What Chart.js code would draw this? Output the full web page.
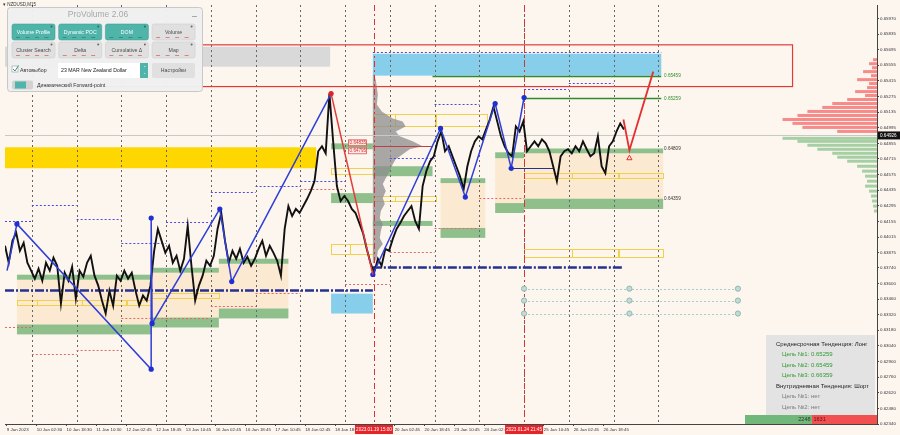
<!DOCTYPE html>
<html lang="ru">
<head>
<meta charset="UTF-8">
<title>NZDUSD M15 - ProVolume</title>
<script src="https://cdn.jsdelivr.net/npm/chart.js"></script>
<style>
  html, body { margin: 0; padding: 0; background: #fdf6ef; }
  #wrap { width: 900px; height: 435px; position: relative; }
</style>
</head>
<body>
<div id="wrap"><canvas id="chart"></canvas></div>
<script>
// ---- data (x in trading hours from the left edge, y in price) ----
const priceStepHours = 2;
const priceCloses = [
  0.63937, 0.63785, 0.63981, 0.64053, 0.63892, 0.63963, 0.63785, 0.63714, 0.63642, 0.63731,
  0.63624, 0.63785, 0.63714, 0.63830, 0.63758, 0.63419, 0.63696, 0.63624, 0.63749, 0.63464,
  0.63714, 0.63660, 0.63785, 0.63847, 0.63669, 0.63580, 0.63446, 0.63330, 0.63535, 0.63401,
  0.63669, 0.63624, 0.63714, 0.63642, 0.63696, 0.63535, 0.63401, 0.63491, 0.63446, 0.63580,
  0.63892, 0.64088, 0.63981, 0.63874, 0.63937, 0.63785, 0.63847, 0.63714, 0.63821, 0.64115,
  0.63758, 0.63446, 0.63580, 0.63669, 0.63803, 0.63758, 0.63847, 0.64088, 0.64231, 0.63981,
  0.63785, 0.63892, 0.63821, 0.63910, 0.63785, 0.63839, 0.63758, 0.63821, 0.63910, 0.63981,
  0.63847, 0.63937, 0.63874, 0.63803, 0.63669, 0.64088, 0.64293, 0.64204, 0.64267, 0.64231,
  0.64293, 0.64356, 0.64427, 0.64516, 0.64784, 0.64829, 0.64766, 0.65301, 0.64873, 0.64472,
  0.64338, 0.64383, 0.64338, 0.64267, 0.64231, 0.64142, 0.64053, 0.63910, 0.63785, 0.63696,
  0.63821, 0.63758, 0.63910, 0.63892, 0.63999, 0.64088, 0.64142, 0.64204, 0.64249, 0.64293,
  0.64160, 0.64088, 0.64472, 0.64606, 0.64695, 0.64739, 0.64873, 0.64962, 0.64784, 0.64829,
  0.64739, 0.64650, 0.64561, 0.64445, 0.64650, 0.64784, 0.64873, 0.64918, 0.64891, 0.64980,
  0.65069, 0.65185, 0.65052, 0.64918, 0.64829, 0.64766, 0.64739, 0.65007, 0.64962, 0.65052,
  0.64784, 0.64829, 0.64873, 0.64829, 0.64891, 0.64855, 0.64784, 0.64650, 0.64516, 0.64739,
  0.64784, 0.64802, 0.64766, 0.64829, 0.64784, 0.64873, 0.64802, 0.64739, 0.64766, 0.64918,
  0.64650, 0.64588, 0.64829, 0.64873, 0.64962, 0.65034, 0.64980
];

const xTickHours = [1, 17, 33, 49, 65, 81, 97, 113, 129, 145, 161, 177, 193, 209, 225, 241, 257, 273, 289, 305, 321];
const xTickLabels = ['9 Jan 2023', '10 Jan 02:30', '10 Jan 18:30', '11 Jan 10:30', '12 Jan 02:45', '12 Jan 18:45',
  '13 Jan 10:45', '16 Jan 02:45', '16 Jan 18:45', '17 Jan 10:45', '18 Jan 02:45', '18 Jan 18:45', '19 Jan 10:45',
  '20 Jan 02:45', '20 Jan 18:45', '23 Jan 10:45', '24 Jan 02:45', '24 Jan 18:45', '25 Jan 10:45', '26 Jan 02:45',
  '26 Jan 18:45'];
const yTickValues = [0.65970, 0.65835, 0.65695, 0.65555, 0.65415, 0.65275, 0.65135, 0.64995, 0.64855, 0.64715,
  0.64575, 0.64435, 0.64295, 0.64155, 0.64015, 0.63875, 0.63740, 0.63600, 0.63460, 0.63320, 0.63180, 0.63040,
  0.62900, 0.62760, 0.62620, 0.62480, 0.62340];
const daySeparators = [14.4, 38.4, 62.4, 86.4, 110.4, 134.4, 158.4, 182.4, 206.4, 230.4, 254.4, 278.4, 302.4, 326.4, 350.4];
const markerHours = [197.9, 278.4];
const markerLabels = ['2023.01.19 15:00', '2023.01.24 21:45'];
const bidPrice = 0.64926;

// zones: [fromHour, toHour, topPrice, bottomPrice]
const grayZones = [[0, 174.4, 0.65721, 0.65542]];
const peachZones = [
  [6.4, 78.4, 0.63633, 0.63232], [78.9, 114.7, 0.63696, 0.63294], [114.7, 152.0, 0.63776, 0.63375],
  [233.6, 257.6, 0.64499, 0.64097], [262.9, 278.4, 0.64722, 0.64320], [278.4, 353.0, 0.64766, 0.64359]
];
const goldZones = [[0, 166.9, 0.64820, 0.64632]];
const skyZones = [[197.3, 352.0, 0.65658, 0.65462], [174.9, 197.3, 0.63508, 0.63330]];
const greenZones = [
  [6.4, 78.4, 0.63678, 0.63633], [78.9, 114.7, 0.63740, 0.63696], [114.7, 152.0, 0.63821, 0.63776],
  [6.4, 78.4, 0.63232, 0.63143], [78.9, 114.7, 0.63294, 0.63205], [114.7, 152.0, 0.63375, 0.63286],
  [174.9, 197.3, 0.64855, 0.64802], [174.9, 197.3, 0.64409, 0.64320],
  [197.3, 229.3, 0.64650, 0.64561], [197.3, 229.3, 0.64160, 0.64115],
  [233.6, 257.6, 0.64543, 0.64499], [233.6, 257.6, 0.64097, 0.64008],
  [262.9, 278.4, 0.64775, 0.64722], [278.4, 353.0, 0.64809, 0.64766],
  [262.9, 278.4, 0.64320, 0.64231], [278.4, 353.0, 0.64359, 0.64267]
];
const yellowBoxes = [
  [6.4, 17.1, 0.63455, 0.63410], [17.1, 41.1, 0.63455, 0.63410], [41.1, 65.1, 0.63455, 0.63410],
  [65.1, 78.4, 0.63455, 0.63410], [78.9, 114.7, 0.63517, 0.63473],
  [174.9, 197.3, 0.64632, 0.64579], [174.9, 185.0, 0.63954, 0.63865], [185.0, 197.3, 0.63954, 0.63865],
  [197.3, 209.0, 0.64383, 0.64338], [209.0, 230.9, 0.64383, 0.64338],
  [197.3, 209.0, 0.65114, 0.65007], [209.0, 230.9, 0.65114, 0.65007], [230.9, 258.7, 0.65114, 0.65007],
  [278.4, 304.0, 0.64588, 0.64543], [304.0, 329.0, 0.64588, 0.64543], [329.0, 353.0, 0.64588, 0.64543],
  [278.4, 304.0, 0.63910, 0.63839], [304.0, 329.0, 0.63910, 0.63839], [329.0, 353.0, 0.63910, 0.63839]
];
const alertBox = [1.5, 422.4, 0.65738, 0.65364];

// short levels: [fromHour, toHour, price]
const blueDotLines = [
  [0, 14.4, 0.64160], [14.4, 38.4, 0.64302], [38.4, 62.4, 0.64178], [62.4, 86.4, 0.63963],
  [86.4, 110.4, 0.64151], [110.4, 134.4, 0.64418], [134.4, 158.4, 0.64472], [158.4, 182.4, 0.64516],
  [206.4, 230.4, 0.64722], [230.4, 254.4, 0.65212], [278.4, 302.4, 0.65346], [302.4, 326.4, 0.65399],
  [197.3, 352.0, 0.65676]
];
const redDotLines = [
  [0, 14.4, 0.63205], [14.4, 38.4, 0.62964], [38.4, 62.4, 0.63000], [62.4, 86.4, 0.63294],
  [86.4, 110.4, 0.63294], [110.4, 134.4, 0.63401], [134.4, 158.4, 0.63517], [158.4, 182.4, 0.64445],
  [182.4, 206.4, 0.63598], [206.4, 230.4, 0.63883], [230.4, 254.4, 0.64097], [254.4, 278.4, 0.64365]
];
const navyLines = [[0, 197.3, 0.63544], [197.3, 331.7, 0.63749]];
const navyThin = [[271.5, 294.4, 0.64632]];
const levelLines = [[229.3, 352.0, 0.65459], [278.4, 352.0, 0.65259]];
const levelLabelPrices = [0.65459, 0.65259, 0.64809, 0.64359];
const levelLabelHour = 353.5;
const pocLine = [197.3, 229.3, 0.64829];
const pocLabels = ['0.64835', '0.64795'];
const pocLabelPrices = [0.64864, 0.64793];
const pocLabelHours = [184.0, 193.6];

// volume profiles: price levels and volumes
const centerProfileBase = 197.3;
const centerProfilePrices = [0.65470, 0.65420, 0.65360, 0.65290, 0.65203, 0.65141, 0.65078, 0.65052, 0.65007, 0.64962,
  0.64918, 0.64873, 0.64829, 0.64802, 0.64757, 0.64713, 0.64668, 0.64606, 0.64543, 0.64490, 0.64427, 0.64365,
  0.64311, 0.64249, 0.64186, 0.64133, 0.64070, 0.64008, 0.63954, 0.63892, 0.63830, 0.63780];
const centerProfileVol = [1, 3, 4, 5, 4, 9, 20, 30, 33, 23, 27, 40, 50, 37, 30, 23, 20, 17, 13, 10, 13, 10,
  12, 8, 7, 10, 8, 7, 10, 5, 4, 1];
const rightProfilePrices = [0.65605, 0.65569, 0.65533, 0.65498, 0.65462, 0.65426, 0.65391, 0.65355, 0.65319, 0.65284,
  0.65248, 0.65212, 0.65177, 0.65141, 0.65105, 0.65069, 0.65034, 0.64998, 0.64962,
  0.64900, 0.64873, 0.64838, 0.64802, 0.64766, 0.64731, 0.64695, 0.64650, 0.64606, 0.64561, 0.64516, 0.64472,
  0.64427, 0.64383, 0.64338, 0.64293, 0.64249];
const rightProfileVol = [4, 8, 5, 14, 6, 20, 8, 10, 22, 12, 30, 45, 55, 70, 80, 95, 85, 75, 40,
  95, 80, 70, 60, 45, 40, 30, 20, 15, 12, 10, 12, 8, 6, 5, 4, 3];
const volumeHoursPerUnit = 0.5333;

// zigzag and forecast
const zigzagBlueA = [[1.1, 0.63714], [6.4, 0.64133], [78.4, 0.62831], [78.4, 0.64186], [78.9, 0.63241],
  [115.2, 0.64267], [121.6, 0.63616], [174.9, 0.65301]];
const zigzagRed = [[174.9, 0.65301], [197.3, 0.63680]];
const zigzagBlueB = [[197.3, 0.63680], [233.6, 0.64989], [246.9, 0.64374], [262.9, 0.65212], [271.5, 0.64632],
  [278.4, 0.65266]];
const forecastRed = [[331.7, 0.65069], [334.9, 0.64793], [347.7, 0.65498]];
const forecastArrow = [[334.9, 0.64722]];
const tealRows = [0.63553, 0.63446, 0.63330];
const tealCols = [278.4, 334.9, 393.1];

const volBuy = '2248';
const volSell = '1631';
const infoLines = [
  ['Среднесрочная Тенденция: Лонг', 'head'],
  ['Цель №1: 0.65259', 'goal'],
  ['Цель №2: 0.65459', 'goal'],
  ['Цель №3: 0.66359', 'goal'],
  ['Внутридневная Тенденция: Шорт', 'head'],
  ['Цель №1: нет', 'none'],
  ['Цель №2: нет', 'none']
];
const panelButtons = [
  ['Volume Profile', 0, 0, true], ['Dynamic POC', 1, 0, true], ['DOM', 2, 0, true], ['Volume', 3, 0, false],
  ['Cluster Search', 0, 1, false], ['Delta', 1, 1, false], ['Cumulative Δ', 2, 1, false], ['Map', 3, 1, false]
];

const FONT = '"Liberation Sans", Arial, sans-serif';
const toPts = arr => arr.map(p => ({ x: p[0], y: p[1] }));

function rr(ctx, x, y, w, h, r) {
  ctx.beginPath();
  ctx.moveTo(x + r, y);
  ctx.arcTo(x + w, y, x + w, y + h, r);
  ctx.arcTo(x + w, y + h, x, y + h, r);
  ctx.arcTo(x, y + h, x, y, r);
  ctx.arcTo(x, y, x + w, y, r);
  ctx.closePath();
}

const overlay = {
  id: 'overlay',
  beforeDraw(chart) {
    const ctx = chart.ctx;
    ctx.save();
    ctx.fillStyle = '#fdf6ef';
    ctx.fillRect(0, 0, chart.width, chart.height);
    ctx.restore();
  },
  beforeDatasetsDraw(chart) {
    const { ctx, chartArea: a, scales: { x, y } } = chart;
    const X = v => x.getPixelForValue(v), Y = v => y.getPixelForValue(v);
    ctx.save();
    ctx.beginPath();
    ctx.rect(a.left, a.top, a.right - a.left, a.bottom - a.top);
    ctx.clip();
    const fillZone = (z, c) => {
      ctx.fillStyle = c;
      ctx.fillRect(X(z[0]), Y(z[2]), X(z[1]) - X(z[0]), Y(z[3]) - Y(z[2]));
    };
    const hLine = (l, c, w, dash) => {
      ctx.strokeStyle = c; ctx.lineWidth = w; ctx.setLineDash(dash);
      ctx.beginPath();
      ctx.moveTo(X(l[0]), Math.round(Y(l[2])) + 0.5);
      ctx.lineTo(X(l[1]), Math.round(Y(l[2])) + 0.5);
      ctx.stroke();
    };

    grayZones.forEach(z => fillZone(z, '#d9d9d9'));
    peachZones.forEach(z => fillZone(z, 'rgba(251,222,184,0.55)'));
    goldZones.forEach(z => fillZone(z, '#ffd700'));
    skyZones.forEach(z => fillZone(z, '#87ceeb'));
    greenZones.forEach(z => fillZone(z, '#8fc08c'));

    ctx.strokeStyle = '#f2d14a'; ctx.lineWidth = 1;
    yellowBoxes.forEach(z => {
      ctx.strokeRect(Math.round(X(z[0])) + 0.5, Math.round(Y(z[2])) + 0.5,
        Math.round(X(z[1]) - X(z[0])), Math.round(Y(z[3]) - Y(z[2])));
    });

    // day separators
    daySeparators.forEach(h => {
      ctx.strokeStyle = '#666'; ctx.lineWidth = 1; ctx.setLineDash([2, 3]);
      ctx.beginPath();
      ctx.moveTo(Math.round(X(h)) + 0.5, a.top);
      ctx.lineTo(Math.round(X(h)) + 0.5, a.bottom);
      ctx.stroke();
    });

    // center volume profile, drawn as thin horizontal strokes
    ctx.setLineDash([]);
    ctx.fillStyle = 'rgba(140,140,140,0.75)';
    ctx.beginPath();
    ctx.moveTo(X(centerProfileBase), Y(centerProfilePrices[0]));
    centerProfilePrices.forEach((p, i) => {
      ctx.lineTo(X(centerProfileBase + centerProfileVol[i] * volumeHoursPerUnit), Y(p));
    });
    ctx.lineTo(X(centerProfileBase), Y(centerProfilePrices[centerProfilePrices.length - 1]));
    ctx.closePath();
    ctx.fill();

    // right volume profile
    rightProfilePrices.forEach((p, i) => {
      const xe = x.max, xs = x.max - rightProfileVol[i] * volumeHoursPerUnit;
      ctx.fillStyle = p > bidPrice ? 'rgba(244,120,120,0.85)' : 'rgba(150,200,150,0.85)';
      ctx.fillRect(X(xs), Y(p) - 1.5, X(xe) - X(xs), 3);
    });

    // red time markers
    markerHours.forEach(h => {
      ctx.strokeStyle = '#e03030'; ctx.lineWidth = 1; ctx.setLineDash([6, 3, 2, 3]);
      ctx.beginPath();
      ctx.moveTo(Math.round(X(h)) + 0.5, a.top);
      ctx.lineTo(Math.round(X(h)) + 0.5, a.bottom);
      ctx.stroke();
    });

    blueDotLines.forEach(l => hLine(l, '#4a4ae0', 1, [2, 2]));
    redDotLines.forEach(l => hLine(l, '#e06a6a', 1, [2, 2]));
    levelLines.forEach(l => hLine(l, '#2e8b2e', 1.3, []));
    hLine([x.min, x.max, bidPrice], '#c8c8c8', 1, []);
    hLine(pocLine, '#c04040', 1.2, []);

    // teal grid of probes
    tealRows.forEach(p => hLine([tealCols[0], tealCols[tealCols.length - 1], p], '#a9cdc6', 1, [2, 2]));

    navyLines.forEach(l => hLine(l, '#26308f', 2.6, [9, 2, 2, 2]));
    navyThin.forEach(l => hLine(l, '#26308f', 1.2, []));
    ctx.restore();
  },
  afterDatasetsDraw(chart) {
    const { ctx, scales: { x, y } } = chart;
    const X = v => x.getPixelForValue(v), Y = v => y.getPixelForValue(v);
    ctx.save();
    ctx.strokeStyle = '#e03a3a'; ctx.lineWidth = 1.2;
    ctx.strokeRect(X(alertBox[0]), Y(alertBox[2]), X(alertBox[1]) - X(alertBox[0]), Y(alertBox[3]) - Y(alertBox[2]));

    // level labels
    ctx.font = '4.6px ' + FONT; ctx.textAlign = 'left'; ctx.textBaseline = 'middle';
    levelLabelPrices.forEach((p, i) => {
      ctx.fillStyle = i < 2 ? '#2e8b2e' : '#333';
      ctx.fillText(p.toFixed(5), X(levelLabelHour), Y(p));
    });

    // POC labels
    pocLabels.forEach((t, i) => {
      const x0 = X(pocLabelHours[0]), x1 = X(pocLabelHours[1]), yc = Y(pocLabelPrices[i]);
      ctx.fillStyle = 'rgba(255,235,235,0.9)';
      ctx.fillRect(x0, yc - 3, x1 - x0, 6);
      ctx.strokeStyle = '#e05050'; ctx.lineWidth = 0.8;
      ctx.strokeRect(x0 + 0.5, yc - 3 + 0.5, x1 - x0, 6);
      ctx.fillStyle = '#d03030'; ctx.font = '4.6px ' + FONT;
      ctx.fillText(t, x0 + 1.5, yc + 0.3);
    });
    ctx.restore();
  },
  afterDraw(chart) {
    const { ctx, chartArea: a, scales: { x, y } } = chart;
    const X = v => x.getPixelForValue(v), Y = v => y.getPixelForValue(v);
    ctx.save();

    // symbol caption
    ctx.font = '4.5px ' + FONT; ctx.fillStyle = '#333'; ctx.textBaseline = 'middle'; ctx.textAlign = 'left';
    ctx.fillText('▾ NZDUSD,M15', 3, 5);

    // info box
    const bx = a.right - 111, by = a.bottom - 89;
    ctx.fillStyle = 'rgba(226,226,226,0.95)';
    ctx.fillRect(bx, by, 109, 80);
    ctx.font = '6px ' + FONT;
    infoLines.forEach((l, i) => {
      const t = l[1];
      ctx.fillStyle = t === 'head' ? '#1e1e1e' : (t === 'goal' ? '#2f9a2f' : '#7a7a7a');
      ctx.fillText(l[0], bx + (t === 'head' ? 10 : 16), by + 9 + i * 10.5);
    });

    // volume bar
    const vx = a.right - 132, vm = a.right - 65, vy = a.bottom - 9;
    ctx.fillStyle = '#72b77a'; ctx.fillRect(vx, vy, vm - vx, 9);
    ctx.fillStyle = '#f25050'; ctx.fillRect(vm, vy, a.right - vm, 9);
    ctx.font = '5.5px ' + FONT; ctx.fillStyle = '#333';
    ctx.textAlign = 'right'; ctx.fillText(volBuy, vm - 1.5, vy + 4.8);
    ctx.textAlign = 'left'; ctx.fillStyle = '#5a1010'; ctx.fillText(volSell, vm + 1.5, vy + 4.8);

    // red time labels on x axis
    ctx.textAlign = 'center'; ctx.font = '4.6px ' + FONT;
    markerHours.forEach((h, i) => {
      const cx = X(h);
      ctx.fillStyle = '#e5242a'; ctx.fillRect(cx - 19, a.bottom + 1, 38, 9);
      ctx.fillStyle = '#fff'; ctx.fillText(markerLabels[i], cx, a.bottom + 5.7);
    });

    // bid price label
    const yb = Y(bidPrice);
    ctx.fillStyle = '#111'; ctx.fillRect(a.right + 1, yb - 4, 22, 8);
    ctx.fillStyle = '#fff'; ctx.textAlign = 'left'; ctx.font = '4.6px ' + FONT;
    ctx.fillText(bidPrice.toFixed(5), a.right + 3, yb + 0.3);

    // ProVolume panel
    rr(ctx, 7.5, 7.5, 195, 84, 3);
    ctx.fillStyle = 'rgba(239,239,239,0.97)'; ctx.fill();
    ctx.strokeStyle = '#c8c8c8'; ctx.lineWidth = 1; ctx.stroke();
    ctx.fillStyle = '#a8a8a8'; ctx.font = '8.5px ' + FONT; ctx.textAlign = 'center';
    ctx.fillText('ProVolume 2.06', 98, 14.5);
    ctx.fillRect(192, 16, 5, 1);
    panelButtons.forEach(b => {
      const bxp = 12 + b[1] * 46.7, byp = 24 + b[2] * 18;
      rr(ctx, bxp, byp, 43, 16, 2);
      ctx.fillStyle = b[3] ? '#4fb4a9' : '#e0e0e0'; ctx.fill();
      ctx.strokeStyle = b[3] ? '#46a398' : '#cfcfcf'; ctx.lineWidth = 0.6; ctx.stroke();
      ctx.fillStyle = b[3] ? '#fff' : '#4a4a4a'; ctx.font = '5.2px ' + FONT;
      ctx.fillText(b[0], bxp + 21.5, byp + 8.3);
      ctx.fillStyle = b[3] ? '#2e6b64' : '#666';
      ctx.beginPath(); ctx.arc(bxp + 39.5, byp + 2.5, 1, 0, Math.PI * 2); ctx.fill();
      ctx.fillStyle = b[3] ? 'rgba(40,90,85,0.6)' : '#d86a6a';
      for (let k = 0; k < 4; k++) ctx.fillRect(bxp + 4 + k * 9.5, byp + 13, 4, 0.8);
    });
    // row 3
    ctx.fillStyle = '#fff'; ctx.fillRect(12, 66, 6, 6);
    ctx.strokeStyle = '#999'; ctx.lineWidth = 0.6; ctx.strokeRect(12, 66, 6, 6);
    ctx.strokeStyle = '#2e9a8f'; ctx.lineWidth = 1;
    ctx.beginPath(); ctx.moveTo(13, 69); ctx.lineTo(15, 71); ctx.lineTo(18.5, 65.5); ctx.stroke();
    ctx.fillStyle = '#333'; ctx.textAlign = 'left'; ctx.font = '5.2px ' + FONT;
    ctx.fillText('Автовыбор', 20, 70.5);
    ctx.fillStyle = '#fff'; ctx.fillRect(58, 63, 82, 15);
    ctx.fillStyle = '#222'; ctx.fillText('23 MAR New Zealand Dollar', 61, 71);
    ctx.fillStyle = '#4fb4a9'; ctx.fillRect(140, 63, 8, 15);
    ctx.fillStyle = '#fff'; ctx.font = '4px ' + FONT; ctx.textAlign = 'center';
    ctx.fillText('⌃', 144, 67.5); ctx.fillText('⌄', 144, 73);
    rr(ctx, 152, 63, 43, 15, 2);
    ctx.fillStyle = '#e0e0e0'; ctx.fill();
    ctx.fillStyle = '#4a4a4a'; ctx.font = '5.2px ' + FONT;
    ctx.fillText('Настройки', 173.5, 71);
    // row 4
    rr(ctx, 12, 80.5, 21, 9, 2);
    ctx.fillStyle = '#d2d2d2'; ctx.fill();
    ctx.fillStyle = '#4fb4a9'; ctx.fillRect(15, 81.5, 11, 7);
    ctx.fillStyle = '#333'; ctx.textAlign = 'left';
    ctx.fillText('Динамический Forward-point', 37, 85.5);
    ctx.restore();
  }
};

const chart = new Chart(document.getElementById('chart'), {
  type: 'line',
  data: {
    datasets: [
      {
        label: 'forecast arrow', data: toPts(forecastArrow), showLine: false, order: 1,
        pointStyle: 'triangle', pointRadius: 3, borderColor: '#e53030', backgroundColor: 'rgba(0,0,0,0)', borderWidth: 1
      },
      {
        label: 'probes', data: tealRows.flatMap(p => tealCols.map(h => ({ x: h, y: p }))), showLine: false, order: 1,
        pointRadius: 2.6, borderColor: '#8fb9b1', backgroundColor: '#c3dbd6', borderWidth: 1
      },
      {
        label: 'zigzag peak', data: toPts(zigzagRed), order: 2, borderColor: '#e33b3b', borderWidth: 1.5,
        pointRadius: c => c.dataIndex === 0 ? 2.6 : 0, pointBackgroundColor: '#e0202a', pointBorderWidth: 0
      },
      {
        label: 'forecast', data: toPts(forecastRed), order: 2, borderColor: '#e53030', borderWidth: 1.8, pointRadius: 0
      },
      {
        label: 'zigzag A', data: toPts(zigzagBlueA), order: 3, borderColor: '#2f3fd8', borderWidth: 1.5,
        pointRadius: c => (c.dataIndex === 0 || c.dataIndex === zigzagBlueA.length - 1) ? 0 : 2.6,
        pointBackgroundColor: '#1f2fd0', pointBorderWidth: 0
      },
      {
        label: 'zigzag B', data: toPts(zigzagBlueB), order: 3, borderColor: '#2f3fd8', borderWidth: 1.5,
        pointRadius: 2.6, pointBackgroundColor: '#1f2fd0', pointBorderWidth: 0
      },
      {
        label: 'NZDUSD', data: priceCloses.map((v, i) => ({ x: i * priceStepHours, y: v })), order: 5,
        borderColor: '#111', borderWidth: 1.9, pointRadius: 0, tension: 0
      }
    ]
  },
  options: {
    responsive: true,
    maintainAspectRatio: false,
    animation: false,
    layout: { padding: { top: 3, left: 0, right: 0, bottom: 0 } },
    plugins: { legend: { display: false }, tooltip: { enabled: false } },
    scales: {
      x: {
        type: 'linear', min: 0, max: 467.7,
        afterBuildTicks: s => { s.ticks = xTickHours.map(v => ({ value: v })); },
        afterFit: s => { s.height = 11; },
        ticks: {
          callback: (v, i) => xTickLabels[i], align: 'start', autoSkip: false, maxRotation: 0, minRotation: 0,
          padding: 1, color: '#333', font: { family: FONT, size: 4.4 }
        },
        grid: { display: true, drawOnChartArea: false, drawTicks: true, tickLength: 2, color: '#444' },
        border: { display: true, color: '#444', width: 1 }
      },
      y: {
        type: 'linear', position: 'right', min: 0.62340, max: 0.66095,
        afterBuildTicks: s => { s.ticks = yTickValues.map(v => ({ value: v })); },
        afterFit: s => { s.width = 23; },
        ticks: {
          callback: v => v.toFixed(5), padding: 1, color: '#333', font: { family: FONT, size: 4.4 }
        },
        grid: { display: true, drawOnChartArea: false, drawTicks: true, tickLength: 2, color: '#444' },
        border: { display: true, color: '#444', width: 1 }
      }
    }
  },
  plugins: [overlay]
});
</script>
</body>
</html>
